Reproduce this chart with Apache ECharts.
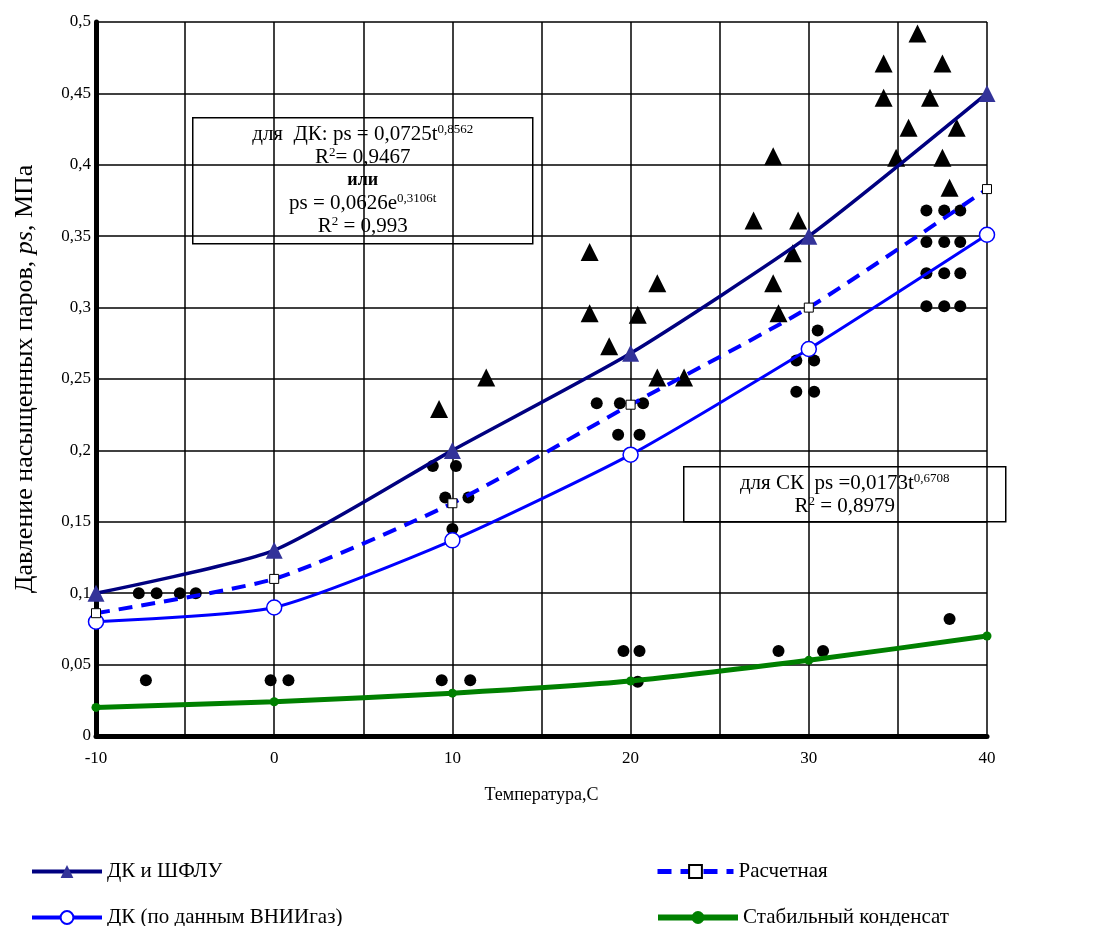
<!DOCTYPE html>
<html>
<head>
<meta charset="utf-8">
<script src="https://cdn.jsdelivr.net/npm/echarts@6/dist/echarts.min.js"></script>
<style>
  html, body { margin: 0; padding: 0; background: #fff; }
  #chart { width: 1099px; height: 926px; }
</style>
</head>
<body>
<div id="chart"></div>
<script>
// температура, °C
const temps = [-10, 0, 10, 20, 30, 40];
// линии
const dkShflu = [0.1, 0.13, 0.2, 0.268, 0.35, 0.45];
const raschet = [0.086, 0.11, 0.163, 0.232, 0.3, 0.383];
const vniigaz = [0.08, 0.09, 0.137, 0.197, 0.271, 0.351];
const stabCond = [0.02, 0.024, 0.03, 0.0385, 0.053, 0.07];

// экспериментальные точки (треугольники)
const triX = [9.25, 11.9, 17.7, 17.7, 18.8, 20.4, 21.5, 21.5, 23.0,
  26.9, 28.0, 28.0, 28.3, 29.1, 29.4,
  34.2, 34.2, 34.9, 35.6, 36.1, 36.8, 37.5, 37.5, 37.9, 38.3];
const triY = [0.229, 0.251, 0.339, 0.296, 0.273, 0.295, 0.317, 0.251, 0.251,
  0.361, 0.406, 0.317, 0.296, 0.338, 0.361,
  0.471, 0.447, 0.405, 0.426, 0.492, 0.447, 0.471, 0.405, 0.384, 0.426];

// экспериментальные точки (кружки)
const dotX = [-7.6, -6.6, -5.3, -4.4, -7.2, -0.2, 0.8,
  8.9, 10.2, 9.6, 10.9, 10.0, 9.4, 11.0,
  18.1, 19.4, 20.7, 19.3, 20.5, 19.6, 20.5, 20.4,
  30.5, 29.3, 30.3, 29.3, 30.3, 28.3, 30.8,
  36.6, 37.6, 38.5, 36.6, 37.6, 38.5, 36.6, 37.6, 38.5, 36.6, 37.6, 38.5, 37.9];
const dotY = [0.1, 0.1, 0.1, 0.1, 0.039, 0.039, 0.039,
  0.189, 0.189, 0.167, 0.167, 0.145, 0.039, 0.039,
  0.233, 0.233, 0.233, 0.211, 0.211, 0.0595, 0.0595, 0.038,
  0.284, 0.263, 0.263, 0.241, 0.241, 0.0595, 0.0595,
  0.368, 0.368, 0.368, 0.346, 0.346, 0.346, 0.324, 0.324, 0.324, 0.301, 0.301, 0.301, 0.082];

const seriesNames = ['ДК и ШФЛУ', 'ДК (по данным ВНИИгаз)', 'Расчетная', 'Стабильный конденсат'];

const pairs = (xs, ys) => xs.map((x, i) => [x, ys[i]]);
const serif = 'Liberation Serif';

// одна легенда на каждую линию, чтобы расставить их сеткой 2x2
const legendItem = (name, left, top, w, lw) => ({
  left, top, orient: 'horizontal', itemWidth: w, itemHeight: 16, itemGap: 6,
  lineStyle: { width: lw },
  textStyle: { fontFamily: serif, fontSize: 21, color: '#000' },
  data: [name]
});

const chart = echarts.init(document.getElementById('chart'));

const options = {
  backgroundColor: '#fff',
  animation: false,
  textStyle: { fontFamily: serif, color: '#000' },
  grid: { left: 96, right: 112, top: 22, bottom: 190, outerBoundsMode: 'none' },
  xAxis: {
    type: 'value', min: -10, max: 40, interval: 5,
    name: 'Температура,С', nameLocation: 'middle', nameGap: 50,
    nameTextStyle: { fontFamily: serif, fontSize: 18, color: '#000' },
    axisLine: { onZero: false, lineStyle: { color: '#000', width: 5 } },
    axisTick: { show: false },
    axisLabel: {
      fontFamily: serif, fontSize: 17, color: '#000', margin: 14,
      formatter: v => (v % 10 === 0 ? String(v) : '')
    },
    splitLine: { show: true, lineStyle: { color: '#000', width: 1.5 } }
  },
  yAxis: {
    type: 'value', min: 0, max: 0.5, interval: 0.05,
    name: '{a|Давление насыщенных паров, }{i|ps}{a|, МПа}',
    nameLocation: 'middle', nameGap: 58, nameRotate: 90,
    nameTextStyle: {
      rich: {
        a: { fontFamily: serif, fontSize: 26, color: '#000' },
        i: { fontFamily: serif, fontSize: 26, color: '#000', fontStyle: 'italic' }
      }
    },
    axisLine: { show: true, onZero: false, lineStyle: { color: '#000', width: 5 } },
    axisTick: { show: false },
    axisLabel: {
      fontFamily: serif, fontSize: 17, color: '#000', margin: 5,
      formatter: v => String(+v.toFixed(2)).replace('.', ',')
    },
    splitLine: { show: true, lineStyle: { color: '#000', width: 1.5 } }
  },
  legend: [
    legendItem(seriesNames[0], 25, 856, 70, 4),
    legendItem(seriesNames[1], 25, 902, 70, 4),
    legendItem(seriesNames[2], 650, 856, 76, 5),
    legendItem(seriesNames[3], 650, 902, 80, 6)
  ],
  graphic: [
    {
      type: 'group', left: 192, top: 117,
      children: [
        { type: 'rect', shape: { x: 0, y: 0, width: 340, height: 126 },
          style: { fill: '#fff', stroke: '#000', lineWidth: 1.5 } },
        { type: 'text', x: 170, y: 63,
          style: {
            align: 'center', verticalAlign: 'middle', fill: '#000',
            text: '{t|для  ДК: ps = 0,0725t}{s|0,8562}\n{t|R}{s|2}{t|= 0,9467}\n{b|или}\n{t|ps = 0,0626e}{s|0,3106t}\n{t|R}{s|2}{t| = 0,993}',
            rich: {
              t: { fontFamily: serif, fontSize: 21, lineHeight: 23, fill: '#000' },
              b: { fontFamily: serif, fontSize: 18, fontWeight: 'bold', lineHeight: 23, fill: '#000' },
              s: { fontFamily: serif, fontSize: 13, lineHeight: 23, verticalAlign: 'top', fill: '#000' }
            }
          } }
      ]
    },
    {
      type: 'group', left: 683, top: 466,
      children: [
        { type: 'rect', shape: { x: 0, y: 0, width: 322, height: 55 },
          style: { fill: '#fff', stroke: '#000', lineWidth: 1.5 } },
        { type: 'text', x: 161, y: 28,
          style: {
            align: 'center', verticalAlign: 'middle', fill: '#000',
            text: '{t|для СК  ps =0,0173t}{s|0,6708}\n{t|R}{s|2}{t| = 0,8979}',
            rich: {
              t: { fontFamily: serif, fontSize: 21, lineHeight: 23, fill: '#000' },
              s: { fontFamily: serif, fontSize: 13, lineHeight: 23, verticalAlign: 'top', fill: '#000' }
            }
          } }
      ]
    }
  ],
  series: [
    {
      type: 'scatter', name: 'tri', data: pairs(triX, triY), symbol: 'triangle',
      symbolSize: 18, itemStyle: { color: '#000', opacity: 1 }, z: 2
    },
    {
      type: 'scatter', name: 'dot', data: pairs(dotX, dotY), symbol: 'circle',
      symbolSize: 12, itemStyle: { color: '#000', opacity: 1 }, z: 2
    },
    {
      type: 'line', name: seriesNames[3], data: pairs(temps, stabCond), smooth: 0.2,
      symbol: 'circle', symbolSize: 9,
      lineStyle: { color: '#008000', width: 5 },
      itemStyle: { color: '#008000' }, z: 3
    },
    {
      type: 'line', name: seriesNames[1], data: pairs(temps, vniigaz), smooth: 0.2,
      symbol: 'circle', symbolSize: 15,
      lineStyle: { color: '#0000ff', width: 3 },
      itemStyle: { color: '#fff', borderColor: '#0000ff', borderWidth: 1.5 }, z: 4
    },
    {
      type: 'line', name: seriesNames[2], data: pairs(temps, raschet), smooth: 0.2,
      symbol: 'rect', symbolSize: 9,
      lineStyle: { color: '#0000ff', width: 4, type: [14, 9] },
      itemStyle: { color: '#fff', borderColor: '#000', borderWidth: 1 }, z: 4
    },
    {
      type: 'line', name: seriesNames[0], data: pairs(temps, dkShflu), smooth: 0.2,
      symbol: 'triangle', symbolSize: 17,
      lineStyle: { color: '#000080', width: 3.5 },
      itemStyle: { color: '#333399' }, z: 5
    }
  ]
};

chart.setOption(options);
</script>
</body>
</html>
